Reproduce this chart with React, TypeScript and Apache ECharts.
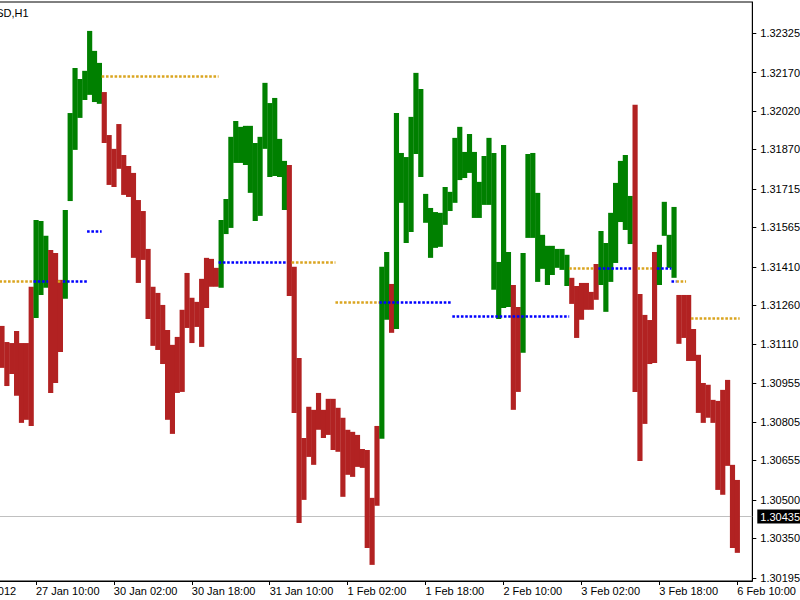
import React, { useEffect, useRef } from "react";
import * as echarts from "echarts";

const symbolTitle = "EURUSD,H1";

const yTickLabels = [
  "1.30195", "1.30350", "1.30500", "1.30655", "1.30805", "1.30955", "1.31110", "1.31260",
  "1.31410", "1.31565", "1.31715", "1.31870", "1.32020", "1.32170", "1.32325",
];

const xTickBars = [-9.5, 7, 23, 39, 55, 71, 87, 103, 119, 135, 151];
const xTickLabels = [
  "26 Jan 2012", "27 Jan 10:00", "30 Jan 02:00", "30 Jan 18:00", "31 Jan 10:00", "1 Feb 02:00",
  "1 Feb 18:00", "2 Feb 10:00", "3 Feb 02:00", "3 Feb 18:00", "6 Feb 10:00",
];

const highs = [
  1.3118, 1.31117, 1.31113, 1.3116, 1.31113, 1.31113, 1.31333, 1.31594, 1.3159, 1.31532,
  1.31477, 1.31465, 1.3136, 1.31633, 1.32012, 1.32188, 1.32145, 1.32177, 1.32333, 1.32255,
  1.32208, 1.32094, 1.31926, 1.31872, 1.31969, 1.31848, 1.31805, 1.31778, 1.31672, 1.31629,
  1.31481, 1.31333, 1.31309, 1.31262, 1.31164, 1.31106, 1.31137, 1.31243, 1.31387, 1.3129,
  1.31274, 1.31364, 1.31446, 1.31442, 1.31407, 1.31594, 1.31676, 1.31919, 1.31981, 1.31958,
  1.31962, 1.31962, 1.31895, 1.31919, 1.3213, 1.32051, 1.32071, 1.31911, 1.31825, 1.31809,
  1.31411, 1.31055, 1.30742, 1.30864, 1.30852, 1.30918, 1.30852, 1.30895, 1.30895, 1.3086,
  1.30821, 1.30774, 1.30766, 1.30754, 1.30699, 1.30695, 1.30508, 1.30789, 1.31411, 1.31469,
  1.31344, 1.32012, 1.31856, 1.3184, 1.31997, 1.32169, 1.32106, 1.31696, 1.31641, 1.31625,
  1.31622, 1.31723, 1.31704, 1.31915, 1.31958, 1.3186, 1.3193, 1.3186, 1.31743, 1.31844,
  1.31915, 1.31856, 1.3143, 1.31887, 1.31469, 1.3134, 1.31254, 1.31465, 1.31852, 1.31856,
  1.317, 1.31536, 1.31493, 1.31493, 1.31481, 1.31481, 1.31458, 1.31368, 1.31336, 1.31348,
  1.31348, 1.31313, 1.31422, 1.31551, 1.31504, 1.31622, 1.31739, 1.31825, 1.31848, 1.31688,
  1.32044, 1.31305, 1.31223, 1.31203, 1.31469, 1.31497, 1.31665, 1.31536, 1.31645, 1.31301,
  1.31301, 1.31301, 1.31168, 1.31067, 1.30957, 1.3095, 1.30891, 1.30887, 1.3093, 1.30969,
  1.30637, 1.30578,
];

const lows = [
  1.31016, 1.30945, 1.30992, 1.30907, 1.30801, 1.30813, 1.30789, 1.31211, 1.31301, 1.31329,
  1.30918, 1.30957, 1.31078, 1.31286, 1.31668, 1.31868, 1.31993, 1.32063, 1.32083, 1.32055,
  1.32048, 1.31895, 1.31731, 1.31723, 1.31794, 1.31692, 1.31684, 1.31446, 1.31348, 1.31438,
  1.31207, 1.31102, 1.31086, 1.31031, 1.30813, 1.30758, 1.30918, 1.30922, 1.31172, 1.31113,
  1.31176, 1.31098, 1.3125, 1.31333, 1.31333, 1.31329, 1.31539, 1.31563, 1.31817, 1.31817,
  1.31809, 1.317, 1.3159, 1.3161, 1.31872, 1.31762, 1.31766, 1.31762, 1.31633, 1.31297,
  1.3084, 1.3041, 1.305, 1.30668, 1.30637, 1.30774, 1.30742, 1.30754, 1.30695, 1.30688,
  1.30512, 1.30598, 1.3059, 1.30629, 1.30625, 1.30312, 1.30246, 1.30477, 1.30739, 1.31204,
  1.31153, 1.31168, 1.31661, 1.31504, 1.31547, 1.31852, 1.31762, 1.31583, 1.31446, 1.31485,
  1.31489, 1.31575, 1.31629, 1.31661, 1.3175, 1.31758, 1.31778, 1.31602, 1.31602, 1.31653,
  1.31653, 1.31321, 1.31207, 1.3125, 1.31254, 1.30852, 1.30922, 1.31075, 1.31524, 1.31524,
  1.31352, 1.31403, 1.3134, 1.31379, 1.31407, 1.31399, 1.31336, 1.31266, 1.31133, 1.31204,
  1.31243, 1.31243, 1.31282, 1.3134, 1.31235, 1.31352, 1.31426, 1.31586, 1.31555, 1.315,
  1.30922, 1.30652, 1.30797, 1.31031, 1.31035, 1.3134, 1.31532, 1.31407, 1.31368, 1.3111,
  1.31133, 1.31043, 1.31043, 1.3084, 1.30801, 1.30821, 1.30801, 1.30539, 1.3052, 1.30633,
  1.30312, 1.30293,
];

// runs of bar colours, left to right: G = green (up), R = red (down)
const colorRuns: [string, number][] = [
  ["R", 7], ["G", 3], ["R", 3], ["G", 8], ["R", 24], ["G", 14], ["R", 19], ["G", 2], ["R", 1],
  ["G", 24], ["R", 2], ["G", 10], ["R", 6], ["G", 7], ["R", 5], ["G", 4], ["R", 13],
];

// [first bar, last bar, price]
const orangeLevels: [number, number, number][] = [
  [0, 6, 1.31353], [12, 12, 1.31353], [21, 44, 1.32157], [60, 68, 1.3143], [69, 77, 1.31274],
  [117, 121, 1.31405], [131, 133, 1.31405], [139, 140, 1.31353], [142, 151, 1.31209],
];
const blueLevels: [number, number, number][] = [
  [7, 9, 1.31353], [13, 17, 1.31353], [18, 20, 1.31551], [45, 58, 1.3143], [78, 92, 1.31274],
  [93, 116, 1.31216], [123, 129, 1.31405], [135, 137, 1.31405], [138, 138, 1.31353],
];

const bidPrice = 1.30435;

const X_MIN = -12.698;
const X_MAX = 154.1;

const GREEN = "#008000";
const RED = "#B22222";
const ORANGE = "#DAA520";
const BLUE = "#0000FF";
const FONT = "'Liberation Sans', Arial, sans-serif";

export default function App() {
  const ref = useRef<HTMLDivElement>(null);

  useEffect(() => {
    if (!ref.current) return;
    const chart = echarts.init(ref.current, null, { renderer: "svg" });

    const dirs: string[] = [];
    colorRuns.forEach(([c, n]) => {
      for (let i = 0; i < n; i++) dirs.push(c);
    });
    const barData = highs.map((h, i) => [i, lows[i], h, dirs[i] === "G" ? 1 : 0]);

    const levelSeries = (levels: [number, number, number][], color: string) => ({
      type: "lines",
      coordinateSystem: "cartesian2d",
      polyline: false,
      silent: true,
      z: 5,
      lineStyle: { color, width: 2.6, type: [2.6, 1.7], opacity: 1, curveness: 0, cap: "butt" },
      data: levels.map(([a, b, p]) => ({ coords: [[a - 0.5, p], [b + 0.5, p]] })),
    });

    const option: any = {
      animation: false,
      backgroundColor: "#ffffff",
      title: {
        text: symbolTitle,
        left: -35,
        top: 7,
        padding: 0,
        textStyle: { fontSize: 11, fontWeight: "normal", color: "#000", fontFamily: FONT },
      },
      grid: {
        left: -60,
        right: 47.7,
        top: 2,
        bottom: 19,
        containLabel: false,
        outerBoundsMode: "none",
        show: true,
        borderColor: "#000",
        borderWidth: 1,
        backgroundColor: "transparent",
      },
      xAxis: {
        type: "value",
        min: X_MIN,
        max: X_MAX,
        splitLine: { show: false },
        axisLine: { show: true, onZero: false, lineStyle: { color: "#000", width: 1 } },
        axisTick: { show: true, length: 4, inside: false, customValues: xTickBars, lineStyle: { color: "#000" } },
        axisLabel: {
          show: true,
          customValues: xTickBars,
          align: "left",
          margin: 4,
          color: "#000",
          fontSize: 11,
          fontFamily: FONT,
          formatter: (v: number) => {
            let best = 0;
            xTickBars.forEach((b, i) => {
              if (Math.abs(b - v) < Math.abs(xTickBars[best] - v)) best = i;
            });
            return xTickLabels[best];
          },
        },
      },
      yAxis: {
        type: "value",
        position: "right",
        min: 1.30183,
        max: 1.32446,
        splitLine: { show: false },
        axisLine: { show: true, onZero: false, lineStyle: { color: "#000", width: 1 } },
        axisTick: {
          show: true,
          length: 4,
          inside: false,
          customValues: yTickLabels.map(Number),
          lineStyle: { color: "#000" },
        },
        axisLabel: {
          show: true,
          customValues: yTickLabels.map(Number),
          margin: 8,
          color: "#000",
          fontSize: 11,
          fontFamily: FONT,
          formatter: (v: number) => v.toFixed(5),
        },
      },
      series: [
        {
          type: "lines",
          coordinateSystem: "cartesian2d",
          polyline: false,
          silent: true,
          clip: false,
          z: 1,
          lineStyle: { color: "#C0C0C0", width: 1, type: "solid", opacity: 1, curveness: 0 },
          label: {
            show: true,
            position: "end",
            distance: 5,
            formatter: () => bidPrice.toFixed(5),
            color: "#fff",
            backgroundColor: "#000",
            padding: [2, 3, 1, 3],
            fontSize: 11,
            fontFamily: FONT,
          },
          data: [{ coords: [[X_MIN, bidPrice], [X_MAX, bidPrice]] }],
        },
        {
          type: "custom",
          z: 3,
          silent: true,
          encode: { x: 0, y: [1, 2] },
          data: barData,
          renderItem: (params: any, api: any) => {
            const x = api.value(0);
            const lo = api.coord([x, api.value(1)]);
            const hi = api.coord([x, api.value(2)]);
            const w = api.size([1, 0])[0];
            return {
              type: "rect",
              shape: { x: lo[0] - w / 2, y: hi[1], width: w + 0.3, height: Math.max(1, lo[1] - hi[1]) },
              style: { fill: api.value(3) ? GREEN : RED },
            };
          },
        },
        levelSeries(orangeLevels, ORANGE),
        levelSeries(blueLevels, BLUE),
      ],
    };

    chart.setOption(option);
    return () => chart.dispose();
  }, []);

  return (
    <div
      ref={ref}
      style={{ position: "absolute", left: 0, top: 0, width: 800, height: 600, background: "#fff" }}
    />
  );
}
